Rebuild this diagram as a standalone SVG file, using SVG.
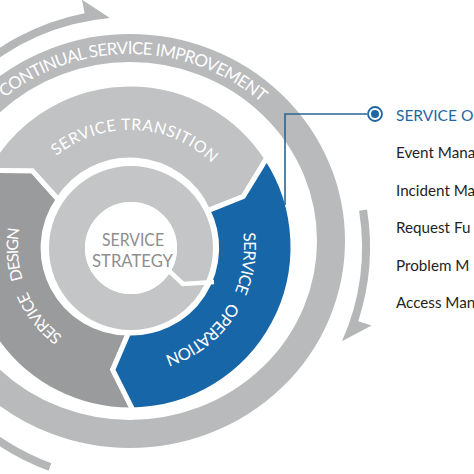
<svg xmlns="http://www.w3.org/2000/svg" width="474" height="474" viewBox="0 0 474 474">
<style>
.rt{font-family:Lato,"Open Sans","Liberation Sans",sans-serif;fill:#ffffff;}
.seg{stroke:#ffffff;stroke-width:5;stroke-linejoin:miter;}
.arc{fill:#b5b6b8;}
.list{font-family:Lato,"Open Sans","Liberation Sans",sans-serif;font-size:15.2px;fill:#231f20;}
.head{font-family:Lato,"Open Sans","Liberation Sans",sans-serif;font-size:15.5px;fill:#1f67a3;}
.st{font-family:Lato,"Open Sans","Liberation Sans",sans-serif;font-size:18px;fill:#8d8e90;text-anchor:middle;}
.conn{fill:none;stroke:#2a6590;stroke-width:1.6;}
</style>
<defs>
<path id="p-csi" d="M 4.65 97.74 A 195 187 0 0 1 262.99 104.24"/>
<path id="p-tr" d="M 56.37 156.07 A 117 117 0 0 1 214.16 165.72"/>
<path id="p-de1" d="M 62.64 336.47 A 112 112 0 0 1 26.90 290.76"/>
<path id="p-de2" d="M 22.89 279.75 A 112 112 0 0 1 19.70 227.55"/>
<path id="p-op1" d="M 243.15 233.11 A 114 114 0 0 1 234.14 293.37"/>
<path id="p-op2" d="M 229.71 302.27 A 114 114 0 0 1 161.42 356.58"/>
</defs>
<rect width="474" height="474" fill="#ffffff"/>
<g id="continual-service-improvement">
<path class="arc" d="M -104.38 205.67 A 238 238 0 0 1 84.59 13.37 L 81.92 -0.37 L 109.95 17.88 A 230 230 0 0 0 -96.51 207.06 Z"/>
<path class="arc" d="M 359.1 210.7 L 367.05 209.46 A 240 240 0 0 1 358.25 321.16 L 371.57 325.49 L 341.94 341.36 A 232 232 0 0 0 359.1 210.7 Z"/>
<path class="arc" d="M 51.34 463.13 A 230 230 0 0 1 -86.13 325.66 L -93.65 328.40 A 238 238 0 0 0 48.60 470.65 Z"/>
<ellipse cx="130" cy="241" rx="201" ry="193" fill="none" stroke="#b9babc" stroke-width="28"/>
<text class="rt" font-size="17"><textPath href="#p-csi" textLength="278" lengthAdjust="spacing">CONTINUAL SERVICE IMPROVEMENT</textPath></text>
</g>
<g id="service-design">
<path class="seg" fill="#9a9b9d" d="M 132.84 409.98 A 163 163 0 0 1 -13.92 170.48 L 32.29 170.66 L 58.29 199.53 A 85 85 0 0 0 128.50 332.99 L 112.74 369.79 Z"/>
<text class="rt" font-size="16"><textPath href="#p-de1" textLength="58" lengthAdjust="spacing">SERVICE</textPath></text>
<text class="rt" font-size="16"><textPath href="#p-de2" textLength="52" lengthAdjust="spacing">DESIGN</textPath></text>
</g>
<g id="service-transition">
<path class="seg" fill="#c1c2c4" d="M -13.92 170.48 A 163 163 0 0 1 266.70 158.22 L 243.28 196.56 L 207.94 210.65 A 85 85 0 0 0 58.29 199.53 L 32.29 170.66 Z"/>
<text class="rt" font-size="16"><textPath href="#p-tr" textLength="170" lengthAdjust="spacing">SERVICE TRANSITION</textPath></text>
</g>
<g id="service-operation">
<path class="seg" fill="#1766a8" d="M 266.70 158.22 A 163 163 0 0 1 132.84 409.98 L 112.74 369.79 L 128.50 332.99 A 85 85 0 0 0 207.94 210.65 L 243.28 196.56 Z"/>
<text class="rt" font-size="16.5"><textPath href="#p-op1" textLength="60" lengthAdjust="spacing">SERVICE</textPath></text>
<text class="rt" font-size="16.5"><textPath href="#p-op2" textLength="86" lengthAdjust="spacing">OPERATION</textPath></text>
</g>
<g id="service-strategy">
<circle cx="131" cy="248" r="64" fill="none" stroke="#c4c5c7" stroke-width="36"/>
<circle cx="131" cy="248" r="46" fill="#ffffff"/>
<polyline points="166,268 183,284 214,282" fill="none" stroke="#ffffff" stroke-width="4.5"/>
<text class="st" x="133" y="246" textLength="62" lengthAdjust="spacingAndGlyphs">SERVICE</text>
<text class="st" x="132.5" y="267" textLength="81" lengthAdjust="spacingAndGlyphs">STRATEGY</text>
</g>
<g id="connectors">
<polyline class="conn" points="367,114 285,114 285,205"/>
</g>
<g id="operation-processes">
<circle cx="375" cy="114" r="7" fill="#ffffff" stroke="#1f67a3" stroke-width="1.8"/>
<circle cx="375" cy="114" r="4" fill="#1f67a3"/>
<text class="head" x="396" y="121">SERVICE O</text>
<text class="list" x="396" y="158">Event Mana</text>
<text class="list" x="396" y="196">Incident Ma</text>
<text class="list" x="396" y="233">Request Fu</text>
<text class="list" x="396" y="271">Problem M</text>
<text class="list" x="396" y="308">Access Man</text>
</g>
</svg>
